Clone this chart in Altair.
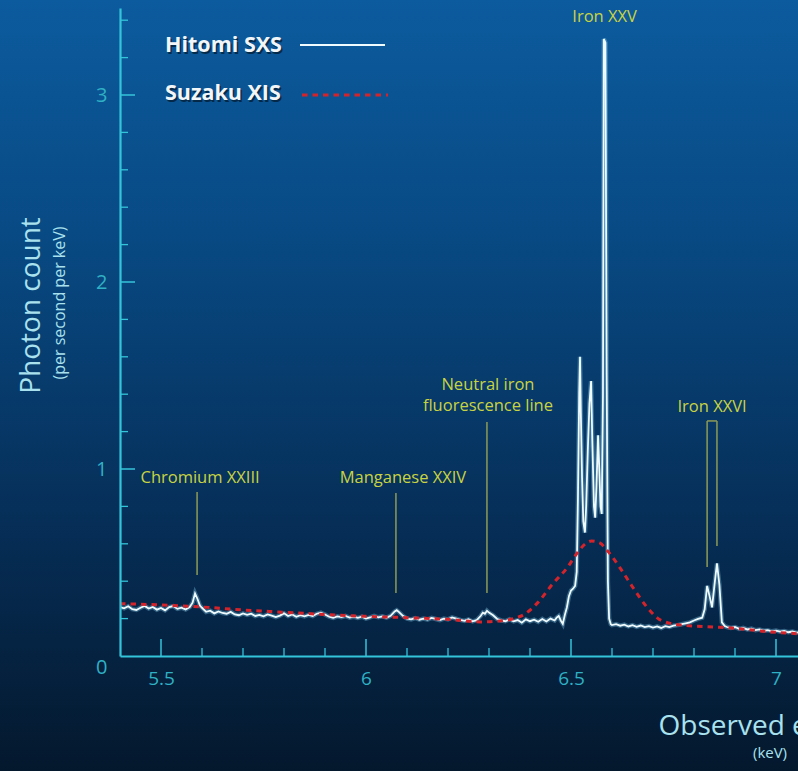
import altair as alt
import pandas as pd

# ---------------------------------------------------------------------------
# Perseus cluster spectrum around the iron K complex
# ---------------------------------------------------------------------------

# Hitomi SXS (observed energy in keV, photons per second per keV)
SXS_ENERGY = [
    5.40, 5.41, 5.42, 5.43, 5.44, 5.45, 5.46, 5.47, 5.48, 5.49,
    5.50, 5.51, 5.52, 5.53, 5.54, 5.55, 5.56, 5.57, 5.577, 5.583,
    5.589, 5.595, 5.60, 5.61, 5.62, 5.63, 5.64, 5.65, 5.66, 5.67,
    5.68, 5.69, 5.70, 5.71, 5.72, 5.73, 5.74, 5.75, 5.76, 5.77,
    5.78, 5.79, 5.80, 5.81, 5.82, 5.83, 5.84, 5.85, 5.86, 5.87,
    5.88, 5.89, 5.90, 5.91, 5.92, 5.93, 5.94, 5.95, 5.96, 5.97,
    5.98, 5.99, 6.00, 6.01, 6.02, 6.03, 6.04, 6.05, 6.06, 6.07,
    6.075, 6.08, 6.09, 6.10, 6.11, 6.12, 6.13, 6.14, 6.15, 6.16,
    6.17, 6.18, 6.19, 6.20, 6.21, 6.22, 6.23, 6.24, 6.25, 6.26,
    6.27, 6.28, 6.285, 6.29, 6.295, 6.30, 6.31, 6.32, 6.33, 6.34,
    6.35, 6.36, 6.37, 6.38, 6.39, 6.40, 6.41, 6.42, 6.43, 6.44,
    6.45, 6.46, 6.465, 6.47, 6.475, 6.48, 6.485, 6.49, 6.495, 6.50,
    6.505, 6.51, 6.514, 6.517, 6.52, 6.522, 6.524, 6.527, 6.53, 6.534,
    6.537, 6.541, 6.545, 6.549, 6.552, 6.556, 6.559, 6.562, 6.566, 6.569,
    6.572, 6.575, 6.578, 6.58, 6.584, 6.587, 6.59, 6.593, 6.597, 6.60,
    6.61, 6.62, 6.63, 6.64, 6.65, 6.66, 6.67, 6.68, 6.69, 6.70,
    6.71, 6.72, 6.73, 6.74, 6.75, 6.76, 6.77, 6.78, 6.79, 6.80,
    6.81, 6.82, 6.826, 6.832, 6.838, 6.844, 6.85, 6.856, 6.862, 6.868,
    6.875, 6.88, 6.89, 6.90, 6.91, 6.92, 6.93, 6.94, 6.95, 6.96,
    6.97, 6.98, 6.99, 7.00, 7.01, 7.02, 7.03, 7.04, 7.05, 7.06,
]
SXS_COUNT = [
    0.262, 0.255, 0.266, 0.250, 0.246, 0.258, 0.268, 0.254, 0.262, 0.248,
    0.257, 0.244, 0.262, 0.267, 0.252, 0.258, 0.249, 0.262, 0.285, 0.335,
    0.305, 0.270, 0.258, 0.236, 0.242, 0.228, 0.238, 0.230, 0.226, 0.236,
    0.222, 0.218, 0.228, 0.220, 0.226, 0.214, 0.220, 0.212, 0.222, 0.216,
    0.208, 0.216, 0.228, 0.214, 0.222, 0.210, 0.218, 0.212, 0.220, 0.214,
    0.226, 0.232, 0.222, 0.210, 0.204, 0.212, 0.208, 0.214, 0.205, 0.210,
    0.204, 0.210, 0.200, 0.206, 0.214, 0.207, 0.212, 0.205, 0.215, 0.238,
    0.245, 0.236, 0.215, 0.200, 0.196, 0.203, 0.194, 0.200, 0.195, 0.204,
    0.198, 0.192, 0.200, 0.196, 0.206, 0.200, 0.193, 0.188, 0.196, 0.185,
    0.192, 0.215, 0.232, 0.226, 0.242, 0.232, 0.218, 0.198, 0.190, 0.186,
    0.196, 0.185, 0.192, 0.178, 0.196, 0.186, 0.194, 0.183, 0.198, 0.185,
    0.200, 0.190, 0.205, 0.214, 0.190, 0.172, 0.220, 0.260, 0.320, 0.350,
    0.360, 0.375, 0.450, 0.850, 1.400, 1.600, 1.300, 0.950, 0.720, 0.660,
    0.800, 1.100, 1.350, 1.470, 1.150, 0.800, 0.740, 0.900, 1.180, 1.000,
    0.800, 0.760, 1.400, 3.300, 3.280, 1.500, 0.400, 0.200, 0.170, 0.165,
    0.170, 0.162, 0.168, 0.158, 0.165, 0.156, 0.163, 0.155, 0.160, 0.152,
    0.158, 0.150, 0.160, 0.155, 0.162, 0.165, 0.170, 0.175, 0.180, 0.190,
    0.198, 0.205, 0.250, 0.375, 0.320, 0.260, 0.380, 0.495, 0.380, 0.180,
    0.160, 0.155, 0.150, 0.155, 0.145, 0.150, 0.142, 0.146, 0.138, 0.142,
    0.135, 0.138, 0.132, 0.136, 0.130, 0.134, 0.127, 0.131, 0.125, 0.128,
]

# Suzaku XIS over the same band
XIS_ENERGY = [
    5.40, 5.50, 5.60, 5.70, 5.80, 5.90, 6.00, 6.10, 6.20, 6.28,
    6.33, 6.36, 6.39, 6.42, 6.455, 6.49, 6.515, 6.535, 6.55, 6.57,
    6.59, 6.62, 6.65, 6.685, 6.72, 6.77, 6.85, 6.90, 6.98, 7.06,
]
XIS_COUNT = [
    0.280, 0.273, 0.262, 0.246, 0.234, 0.222, 0.212, 0.205, 0.196, 0.182,
    0.188, 0.200, 0.228, 0.288, 0.385, 0.470, 0.550, 0.600, 0.615, 0.605,
    0.560, 0.470, 0.370, 0.262, 0.190, 0.165, 0.155, 0.148, 0.130, 0.118,
]

# Identified emission lines
LINE_LABELS = ["Chromium XXIII", "Manganese XXIV", "Neutral iron",
               "fluorescence line", "Iron XXV", "Iron XXVI"]
LINE_ENERGIES = [5.588, 6.073, 6.295, 6.295, 6.582, 6.844]

# Axis ticks
X_LABELS = [5.5, 6.0, 6.5, 7.0]
X_MINOR = [5.6, 5.7, 5.8, 5.9, 6.1, 6.2, 6.3, 6.4, 6.6, 6.7, 6.8, 6.9]
Y_LABELS = [0, 1, 2, 3]
Y_MAJOR = [1, 2, 3]
Y_MINOR = [0.2, 0.4, 0.6, 0.8, 1.2, 1.4, 1.6, 1.8, 2.2, 2.4, 2.6, 2.8, 3.2, 3.4]

# ---------------------------------------------------------------------------
# Layout and styling
# ---------------------------------------------------------------------------
W, H = 678, 648
PX_PER_KEV, PX_PER_COUNT = 410, 187
X_DOMAIN = [5.4, 5.4 + W / PX_PER_KEV]
Y_DOMAIN = [0, H / PX_PER_COUNT]

FONT = "Open Sans"
AXIS = "#34c4da"
LABEL = "#2fb0c4"
TITLE = "#a9e2ee"
NOTE = "#c9d341"
NOTE_LINE = "#8e9b55"
SXS_COLOR = "#effbff"
XIS_COLOR = "#d3242b"

# label heights / pointer extents (in count units) for each annotation
LABEL_LEVEL = [0.952, 0.952, 1.447, 1.337, 3.417, 1.332]
LABEL_DX = [3, 7, 1, 1, 0, 0]
POINTER_ENERGY = [5.588, 6.073, 6.295, 6.832, 6.856]
POINTER_TOP = [0.877, 0.872, 1.251, 1.257, 1.257]
POINTER_BOTTOM = [0.433, 0.337, 0.337, 0.476, 0.588]

xs = alt.Scale(domain=X_DOMAIN, nice=False, zero=False)
ys = alt.Scale(domain=Y_DOMAIN, nice=False, zero=False)

sxs = pd.DataFrame({"energy": SXS_ENERGY, "count": SXS_COUNT})
xis = pd.DataFrame({"energy": XIS_ENERGY, "count": XIS_COUNT})
one = pd.DataFrame({"k": [0]})

x_axis = alt.Axis(
    values=X_LABELS, format="~g", ticks=False, grid=False, zindex=2,
    domainColor=AXIS, domainWidth=2.2,
    labelColor=LABEL, labelFont=FONT, labelFontSize=19, labelPadding=13,
    title="Observed energy", titleFont=FONT, titleFontSize=28,
    titleFontWeight="normal", titleColor=TITLE,
    titleX=538, titleY=70, titleAlign="left", titleBaseline="middle",
)
y_axis = alt.Axis(
    values=Y_LABELS, format="~g", ticks=False, grid=False, zindex=2,
    domainColor=AXIS, domainWidth=2.2,
    labelColor=LABEL, labelFont=FONT, labelFontSize=20, labelPadding=13,
    labelOffset={"condition": {"test": "datum.value === 0", "value": 11}, "value": 0},
    title="Photon count", titleFont=FONT, titleFontSize=28,
    titleFontWeight="normal", titleColor=TITLE, titleAngle=270,
    titleX=-89, titleY=297, titleAlign="center", titleBaseline="middle",
)


def X(field):
    return alt.X(field, scale=xs, axis=x_axis)


def Y(field):
    return alt.Y(field, scale=ys, axis=y_axis)


# background wash
background = alt.Chart(one).mark_rect(
    color=alt.LinearGradient(
        gradient="linear", x1=0, x2=0, y1=0, y2=1,
        stops=[
            alt.GradientStop(color="#0c5b9e", offset=0),
            alt.GradientStop(color="#084a84", offset=0.3),
            alt.GradientStop(color="#062e57", offset=0.68),
            alt.GradientStop(color="#04182d", offset=1),
        ],
    )
).encode(x=alt.value(-120), x2=alt.value(W), y=alt.value(-8), y2=alt.value(H + 115))

# spectra
sxs_glow = alt.Chart(sxs).mark_line(
    color="#86d2f0", strokeWidth=4.5, opacity=0.35, clip=True
).encode(x=X("energy:Q"), y=Y("count:Q"))
sxs_line = alt.Chart(sxs).mark_line(
    color=SXS_COLOR, strokeWidth=1.8, clip=True
).encode(x=X("energy:Q"), y=Y("count:Q"))
xis_line = alt.Chart(xis).mark_line(
    color=XIS_COLOR, strokeWidth=3, strokeDash=[5.5, 5], interpolate="monotone",
    clip=True
).encode(x=X("energy:Q"), y=Y("count:Q"))

# annotation pointers
pointers_df = pd.DataFrame({"energy": POINTER_ENERGY, "top": POINTER_TOP,
                            "bottom": POINTER_BOTTOM})
pointers = alt.Chart(pointers_df).mark_rule(color=NOTE_LINE, strokeWidth=1.5).encode(
    x=X("energy:Q"), y=Y("top:Q"), y2="bottom:Q",
)
bracket = alt.Chart(pd.DataFrame({"a": [POINTER_ENERGY[3]], "b": [POINTER_ENERGY[4]],
                                  "lvl": [POINTER_TOP[3]]})).mark_rule(
    color=NOTE_LINE, strokeWidth=1.5
).encode(x=X("a:Q"), x2="b:Q", y=Y("lvl:Q"))

# inward-pointing ticks
y_major = alt.Chart(pd.DataFrame({"v": Y_MAJOR})).mark_rule(
    color=AXIS, strokeWidth=1.5
).encode(y=Y("v:Q"), x=alt.value(0), x2=alt.value(15))
y_minor = alt.Chart(pd.DataFrame({"v": Y_MINOR})).mark_rule(
    color=AXIS, strokeWidth=1.3
).encode(y=Y("v:Q"), x=alt.value(0), x2=alt.value(8))
x_major = alt.Chart(pd.DataFrame({"v": X_LABELS})).mark_rule(
    color=AXIS, strokeWidth=1.5
).encode(x=X("v:Q"), y=alt.value(H - 17), y2=alt.value(H))
x_minor = alt.Chart(pd.DataFrame({"v": X_MINOR})).mark_rule(
    color=AXIS, strokeWidth=1.3
).encode(x=X("v:Q"), y=alt.value(H - 8), y2=alt.value(H))

# line labels
labels_df = pd.DataFrame({"label": LINE_LABELS, "energy": LINE_ENERGIES,
                          "level": LABEL_LEVEL})
label_text = [
    alt.Chart(labels_df.iloc[[i]]).mark_text(
        font=FONT, fontSize=16.5, color=NOTE,
        align="center", baseline="middle", dx=LABEL_DX[i],
    ).encode(x=X("energy:Q"), y=Y("level:Q"), text="label:N")
    for i in range(len(LINE_LABELS))
]


# legend
def legend_text(name, x, y, color, opacity=1.0, dx=0, dy=0):
    return alt.Chart(pd.DataFrame({"t": [name]})).mark_text(
        font=FONT, fontSize=21.5, fontWeight="bold", color=color, opacity=opacity,
        align="left", baseline="middle", dx=dx, dy=dy,
    ).encode(text="t:N", x=alt.value(x), y=alt.value(y))


legend = [
    legend_text("Hitomi SXS", 45, 38, "#000000", 0.5, 1.5, 2),
    legend_text("Hitomi SXS", 45, 38, "#f3f6f8"),
    legend_text("Suzaku XIS", 45, 86, "#000000", 0.5, 1.5, 2),
    legend_text("Suzaku XIS", 45, 86, "#f3f6f8"),
    alt.Chart(one).mark_rule(color=SXS_COLOR, strokeWidth=2).encode(
        x=alt.value(180), x2=alt.value(265), y=alt.value(37)),
    alt.Chart(one).mark_rule(color=XIS_COLOR, strokeWidth=3, strokeDash=[5.5, 5]).encode(
        x=alt.value(182), x2=alt.value(268), y=alt.value(87)),
]

# unit captions next to the axis titles
units = [
    alt.Chart(pd.DataFrame({"t": ["(per second per keV)"]})).mark_text(
        font=FONT, fontSize=16, color=TITLE, angle=270,
        align="center", baseline="middle",
    ).encode(text="t:N", x=alt.value(-60), y=alt.value(295)),
    alt.Chart(pd.DataFrame({"t": ["(keV)"]})).mark_text(
        font=FONT, fontSize=15, color=TITLE, align="center", baseline="middle",
    ).encode(text="t:N", x=alt.value(650), y=alt.value(H + 97)),
]

chart = alt.layer(
    background, pointers, bracket, sxs_glow, sxs_line, xis_line,
    y_major, y_minor, x_major, x_minor,
    *label_text, *legend, *units,
).properties(
    width=W, height=H,
    padding={"left": 120, "top": 8, "right": 0, "bottom": 115},
    autosize=alt.AutoSizeParams(type="none"),
    background="#051c33",
).configure_view(strokeWidth=0)

chart.save("out.html", embed_options={"renderer": "svg", "actions": False})
